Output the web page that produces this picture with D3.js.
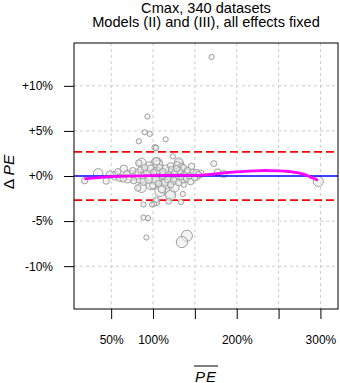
<!DOCTYPE html>
<html>
<head>
<meta charset="utf-8">
<script src="https://cdn.jsdelivr.net/npm/d3@7"></script>
<style>
  html, body { margin: 0; padding: 0; background: #fff; }
  svg { display: block; }
  text { font-family: "Liberation Sans", Arial, sans-serif; fill: #000; }
</style>
</head>
<body>
<svg id="chart" width="340" height="383"></svg>
<script>
// ---------------- data ----------------
const titleLines = ["Cmax, 340 datasets", "Models (II) and (III), all effects fixed"];
const xTickValues = [50, 100, 150, 200, 250, 300];
const xTickLabels = ["50%", "100%", "", "200%", "", "300%"];
const yTickValues = [10, 5, 0, -5, -10];
const yTickLabels = ["+10%", "+5%", "+0%", "-5%", "-10%"];
const acceptLimits = [2.67, -2.67];

// mean PE (%) of each dataset
const ptX = [
  170, 93.3, 90.1, 96.1, 83, 115.1, 102, 103.6, 172.6, 123.8,
  88.6, 98.8, 101.2, 103.6, 118.7, 133.3, 88.6, 94, 92.1, 140.4,
  134.5, 135.7, 121, 136.9, 104, 152.4, 177.3, 184.5, 297.5, 18.3,
  34.5, 44, 48.5, 65.1, 81.8, 83, 64.3, 86.2, 98.1, 112.7,
  104.4, 129, 130.6, 141, 119.9, 110.7, 115.1, 86.5, 104, 106,
  121, 130.9, 133.8, 146, 152,
  54.5, 58, 60.4, 68.7, 69.9, 73.4, 75.8, 77, 79.4, 81.8,
  84.2, 85.3, 87.7, 88.9, 90.1, 91.3, 93.7, 94.9, 96.1, 97.3,
  98.5, 99.6, 100.8, 102, 103.2, 104.4, 105.6, 106.8, 108, 109.2,
  110.4, 111.6, 112.8, 114, 115.1, 116.3, 117.5, 118.7, 119.9, 121,
  122.2, 123.4, 124.6, 125.8, 127, 128.2, 129.4, 130.6, 131.8, 133,
  134.2, 135.4, 136.6, 137.8, 140.1, 141.3, 143.7, 144.9, 147.3, 149.7,
  154.4, 156.8, 108.5, 125.5, 95.5
];
// delta PE (%) of each dataset
const ptY = [
  13.2, 6.6, 4.85, 4.67, 3.85, 4.07, 3.18, 3.1, 1.37, 2.18,
  -3.16, -3.16, -3.08, -2.89, -2.82, -2.89, -4.6, -4.67, -6.82, -6.63,
  -7.33, -2.0, -2.15, -0.97, -2.63, 0.03, 0.4, 0.22, -0.6, -0.52,
  0.29, -0.56, 0.14, 0.81, -1.33, 1.44, -0.33, -1.3, -0.89, -1.33,
  1.4, 1.18, 1.55, 0.33, -1.89, -1.44, -0.6, 1.44, 1.62, 1.25,
  1.14, 1.33, 0.95, 1.07, 0.33,
  0.03, 0.48, -0.19, 0.26, -0.3, 0.03, 0.59, -0.52, 0.03, 0.37,
  -0.19, 0.7, 0.14, -0.63, 0.92, -0.08, 0.48, -0.41, 0.14, 0.81,
  -0.19, -1.08, 0.37, 0.03, -0.52, 0.59, -0.08, -0.85, 0.92, 0.26,
  -0.3, 0.48, 0.03, -0.74, 0.81, 0.14, -0.41, 0.48, -0.08, -0.97,
  0.7, 0.03, -0.52, 0.37, -0.19, 0.81, 0.14, -0.74, 0.59, -0.08,
  0.26, -0.41, 0.92, 0.03, -0.3, 0.59, 0.03, -0.63, 0.37, -0.19,
  0.14, 0.26, -1.7, -1.25, 1.1
];
// number of subjects of each dataset (symbol size)
const ptN = [
  12, 12, 12, 12, 12, 12, 14, 14, 16, 12,
  12, 12, 14, 25, 14, 12, 12, 12, 12, 55,
  55, 12, 45, 12, 14, 32, 22, 22, 45, 18,
  40, 18, 25, 25, 18, 18, 18, 40, 60, 60,
  60, 25, 32, 25, 50, 25, 25, 40, 25, 40,
  18, 40, 25, 18, 22,
  32, 18, 25, 18, 32, 50, 18, 18, 32, 25,
  50, 18, 32, 25, 18, 72, 32, 25, 50, 25,
  40, 18, 18, 72, 32, 25, 50, 18, 18, 32,
  60, 18, 32, 25, 25, 50, 18, 32, 25, 18,
  18, 60, 25, 18, 32, 18, 40, 18, 25, 18,
  32, 25, 18, 25, 18, 18, 18, 18, 25, 18,
  18, 25, 50, 40, 32
];

// loess smooth through the points
const smoothX = [18, 35, 48, 65, 96, 130, 155, 165, 180, 191, 205, 220, 233, 250, 262, 275, 283, 290, 297];
const smoothY = [-0.32, -0.17, -0.07, -0.02, 0.05, 0.07, 0.08, 0.15, 0.3, 0.4, 0.48, 0.56, 0.61, 0.57, 0.5, 0.33, 0.1, -0.2, -0.48];

// ---------------- drawing ----------------
const svg = d3.select("#chart");
const L = 74, R = 338, T = 43, B = 309;
const x = d3.scaleLinear().domain([5.6, 321]).range([L, R]);
const y = d3.scaleLinear().domain([-14.75, 14.75]).range([B, T]);
const rScale = d3.scaleSqrt().domain([0, 72]).range([0, 6.4]);

// titles
svg.append("text").attr("x", (L + R) / 2).attr("y", 12.5).attr("text-anchor", "middle")
  .style("font-size", "14.6px").text(titleLines[0]);
svg.append("text").attr("x", (L + R) / 2).attr("y", 27).attr("text-anchor", "middle")
  .style("font-size", "14.6px").text(titleLines[1]);

// grid
const grid = svg.append("g");
grid.selectAll("line.gx").data(xTickValues).join("line")
  .attr("x1", d => x(d)).attr("x2", d => x(d)).attr("y1", T).attr("y2", B)
  .attr("stroke", "#cccccc").attr("stroke-width", 1).attr("stroke-dasharray", "3,3");
grid.selectAll("line.gy").data(yTickValues.filter(d => d !== 0)).join("line")
  .attr("x1", L).attr("x2", R).attr("y1", d => y(d)).attr("y2", d => y(d))
  .attr("stroke", "#cccccc").attr("stroke-width", 1).attr("stroke-dasharray", "3,3");

// acceptance limits
svg.append("g").selectAll("line").data(acceptLimits).join("line")
  .attr("x1", L).attr("x2", R).attr("y1", d => y(d)).attr("y2", d => y(d))
  .attr("stroke", "#ff0000").attr("stroke-width", 1.6).attr("stroke-dasharray", "8,4");

// points
const pts = ptX.map((v, i) => ({ x: v, y: ptY[i], n: ptN[i] }));
pts.sort((a, b) => b.n - a.n);
svg.append("g").selectAll("circle").data(pts).join("circle")
  .attr("cx", d => x(d.x)).attr("cy", d => y(d.y)).attr("r", d => rScale(d.n))
  .attr("fill", "rgba(236,236,236,0.6)")
  .attr("stroke", "rgba(150,150,150,0.9)").attr("stroke-width", 1);

// zero line
svg.append("line").attr("x1", L).attr("x2", R).attr("y1", y(0)).attr("y2", y(0))
  .attr("stroke", "#0000ff").attr("stroke-width", 1.4);

// smooth
const sm = smoothX.map((v, i) => [v, smoothY[i]]);
svg.append("path").datum(sm)
  .attr("d", d3.line().x(d => x(d[0])).y(d => y(d[1])).curve(d3.curveMonotoneX))
  .attr("fill", "none").attr("stroke", "#ff00ff").attr("stroke-width", 2.8);

// axes
const ax = svg.append("g").attr("transform", `translate(0,${B})`)
  .call(d3.axisBottom(x).tickValues(xTickValues).tickSize(10).tickPadding(16.5)
    .tickFormat((d, i) => xTickLabels[i]));
const ay = svg.append("g").attr("transform", `translate(${L},0)`)
  .call(d3.axisLeft(y).tickValues(yTickValues).tickSize(10).tickPadding(11)
    .tickFormat((d, i) => yTickLabels[i]));
[ax, ay].forEach(g => {
  g.select(".domain").remove();
  g.selectAll(".tick line").attr("stroke", "#000").attr("stroke-width", 1);
  g.selectAll(".tick text").style("font-size", "12px")
    .style("font-family", "'Liberation Sans', Arial, sans-serif").attr("fill", "#000");
});

// box
svg.append("rect").attr("x", L).attr("y", T).attr("width", R - L).attr("height", B - T)
  .attr("fill", "none").attr("stroke", "#000").attr("stroke-width", 1);

// y label
const yl = svg.append("text").attr("transform", "translate(13.5,172) rotate(-90)")
  .attr("text-anchor", "middle").style("font-size", "15.5px");
yl.append("tspan").text("\u0394 ");
yl.append("tspan").style("font-style", "italic").text("PE");

// x label with overline
const xl = svg.append("text").attr("x", (L + R) / 2).attr("y", 381.5)
  .attr("text-anchor", "middle").style("font-size", "15px").style("font-style", "italic")
  .attr("letter-spacing", "1px").text("PE");
const bb = xl.node().getBBox();
svg.append("line").attr("x1", bb.x - 1).attr("x2", bb.x + bb.width + 1)
  .attr("y1", 366).attr("y2", 366).attr("stroke", "#000").attr("stroke-width", 1);
</script>
</body>
</html>
